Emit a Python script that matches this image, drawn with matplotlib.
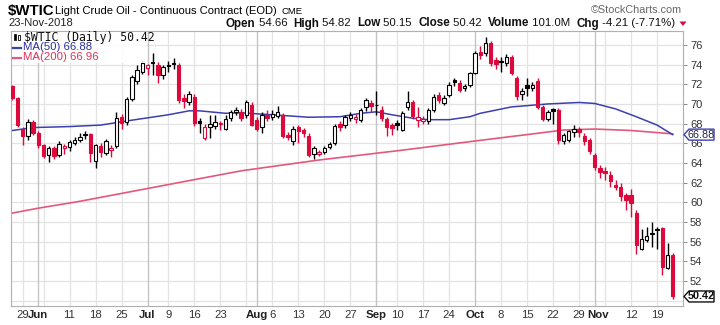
import numpy as np
import matplotlib
matplotlib.use("Agg")
import matplotlib.pyplot as plt
import matplotlib.transforms as mtransforms
from matplotlib.patches import Polygon
from matplotlib.lines import Line2D

# ---------------- data ----------------
opens = [71.8, 70.6, 67.5, 66.7, 68.2, 67.0, 65.8, 64.8, 65.5, 64.8,
         65.5, 65.6, 66.0, 66.3, 66.95, 66.9, 64.2, 65.7, 65.0, 65.3,
         65.7, 68.7, 68.2, 70.5, 72.3, 73.3, 73.7, 74.3, 74.0, 72.9,
         74.0, 74.2, 74.0, 70.6, 70.2, 70.7, 68.3, 66.5, 67.7, 67.8,
         68.1, 67.5, 68.6, 69.2, 69.2, 68.9, 69.9, 68.4, 67.7, 68.9,
         68.7, 68.8, 68.9, 66.8, 66.2, 67.7, 67.3, 66.7, 64.9, 64.9,
         65.1, 65.6, 66.0, 68.0, 67.9, 68.6, 68.5, 68.4, 69.7, 70.1,
         69.9, 69.4, 68.5, 67.9, 68.1, 67.4, 69.7, 70.2, 68.4, 68.3,
         68.3, 69.4, 70.9, 70.1, 70.9, 72.4, 72.1, 71.6, 71.9, 73.1,
         75.3, 75.15, 76.2, 74.5, 74.4, 74.2, 74.8, 72.6, 71.0, 71.9,
         71.6, 72.3, 69.7, 68.5, 69.45, 69.4, 66.2, 66.3, 67.1, 67.5,
         66.7, 66.3, 64.8, 63.45, 63.2, 62.8, 61.75, 61.6, 60.75, 60.75,
         58.9, 55.2, 56.2, 56.9, 57.3, 57.4, 53.3, 54.66]
highs = [71.95, 70.7, 67.7, 68.5, 68.4, 67.2, 65.9, 65.7, 65.7, 66.2,
         65.9, 66.3, 66.6, 67.0, 67.2, 67.0, 65.9, 66.0, 66.4, 65.8,
         69.2, 69.0, 70.7, 72.9, 74.0, 74.5, 74.1, 75.2, 74.3, 74.0,
         74.4, 74.7, 74.2, 71.0, 71.3, 71.0, 68.6, 68.0, 68.9, 68.9,
         68.3, 68.9, 69.4, 69.7, 69.5, 70.4, 70.2, 68.7, 69.2, 69.4,
         69.4, 69.8, 69.1, 67.1, 67.8, 67.9, 67.6, 67.0, 65.7, 65.3,
         65.7, 66.1, 68.0, 68.3, 68.9, 69.2, 69.0, 69.6, 70.6, 70.4,
         71.3, 69.8, 68.7, 68.1, 68.4, 69.3, 71.3, 70.4, 69.7, 68.8,
         69.6, 71.0, 71.2, 70.9, 72.2, 72.6, 72.4, 72.0, 73.3, 75.4,
         75.9, 76.85, 76.4, 74.8, 74.8, 75.1, 75.0, 72.8, 71.6, 72.6,
         72.2, 72.6, 69.9, 69.4, 69.6, 69.6, 67.0, 67.4, 67.9, 67.7,
         67.0, 66.5, 65.0, 63.8, 63.6, 63.2, 62.3, 62.0, 60.9, 61.3,
         59.2, 57.3, 57.5, 58.0, 57.5, 57.5, 55.9, 54.82]
lows = [70.4, 67.7, 65.8, 66.3, 66.8, 65.5, 64.5, 64.1, 64.4, 64.6,
        64.9, 65.2, 65.8, 66.1, 66.4, 64.1, 63.5, 64.6, 64.8, 64.6,
        65.5, 67.5, 67.9, 70.3, 72.0, 73.0, 72.9, 72.9, 72.1, 72.5,
        73.3, 73.6, 70.1, 69.6, 69.9, 67.8, 67.0, 66.3, 66.5, 67.5,
        67.4, 67.3, 68.3, 68.9, 68.3, 68.6, 67.8, 67.2, 67.0, 68.3,
        68.4, 68.6, 66.5, 66.3, 65.8, 66.0, 66.6, 64.6, 64.4, 64.7,
        64.9, 65.4, 65.8, 67.2, 67.6, 68.3, 68.1, 68.2, 69.3, 69.2,
        68.9, 68.3, 66.7, 66.8, 67.4, 67.2, 69.4, 68.5, 67.7, 68.0,
        68.0, 69.2, 70.1, 69.9, 70.7, 71.8, 71.2, 71.3, 71.7, 73.0,
        74.6, 74.9, 73.9, 73.6, 73.2, 73.9, 72.9, 70.4, 70.4, 70.8,
        71.3, 69.5, 68.3, 68.3, 68.0, 65.9, 65.9, 66.1, 66.6, 66.6,
        65.8, 64.9, 63.3, 62.5, 62.3, 61.6, 61.2, 60.1, 59.2, 58.5,
        54.7, 55.1, 56.0, 55.5, 55.2, 52.6, 53.2, 50.15]
closes = [70.6, 67.9, 66.7, 68.2, 67.0, 65.8, 64.75, 65.5, 64.7, 65.95,
          65.75, 66.1, 66.35, 66.65, 66.8, 65.05, 65.85, 65.1, 66.2, 65.55,
          68.6, 68.1, 70.5, 72.75, 73.45, 74.15, 73.95, 74.15, 72.95, 73.8,
          73.85, 74.1, 70.4, 70.3, 71.0, 68.05, 68.1, 67.7, 68.0, 68.2,
          68.0, 68.5, 69.2, 69.4, 68.6, 70.2, 67.9, 67.5, 68.9, 68.6,
          69.0, 69.2, 66.7, 66.6, 67.5, 67.2, 67.0, 64.8, 65.5, 65.1,
          65.5, 65.9, 67.8, 67.7, 68.7, 68.9, 68.7, 69.4, 70.4, 69.8,
          69.85, 68.6, 67.7, 67.55, 67.9, 69.1, 70.2, 68.75, 68.65, 68.5,
          69.4, 70.7, 70.4, 70.6, 71.9, 72.2, 71.4, 71.8, 73.1, 75.15,
          75.0, 76.2, 74.15, 74.1, 74.3, 74.8, 73.1, 70.8, 71.3, 71.6,
          71.9, 69.7, 68.5, 69.2, 69.3, 66.35, 66.8, 67.2, 67.5, 67.1,
          66.2, 65.2, 63.6, 63.1, 62.95, 62.2, 61.6, 60.6, 60.2, 59.9,
          55.7, 56.25, 56.6, 56.75, 57.2, 53.45, 54.63, 50.42]

ma50_idx = [0, 4, 11, 17, 23, 30, 34, 36, 41, 44, 50, 57, 63, 67, 70, 73, 77, 80,
            84, 88, 90, 96, 103, 109, 112, 116, 120, 124, 127]
ma50_val = [67.3, 67.6, 67.7, 67.85, 68.35, 68.9, 69.3, 69.3, 69.05, 69.1, 68.9,
            68.65, 68.7, 69.05, 69.2, 68.9, 68.55, 68.4, 68.4, 68.7, 69.05, 69.7,
            70.0, 70.15, 70.05, 69.5, 68.7, 67.85, 66.88]
ma200_idx = [0, 5, 13, 21, 26, 34, 44, 59, 75, 90, 100, 106, 112, 119, 127]
ma200_val = [58.9, 59.4, 60.1, 60.9, 61.4, 62.2, 63.2, 64.3, 65.3, 66.3, 66.95,
             67.35, 67.45, 67.3, 66.96]

ytick_vals = list(range(52, 77, 2))
xtick_pos = [2, 5, 11, 16, 21, 26, 30, 35, 40, 47, 50, 55, 60, 65, 70, 74, 79, 84,
             89, 94, 99, 104, 109, 112, 119, 124]
xtick_lab = ["29", "Jun", "11", "18", "25", "Jul", "9", "16", "23", "Aug", "6", "13",
             "20", "27", "Sep", "10", "17", "24", "Oct", "8", "15", "22", "29", "Nov",
             "12", "19"]
week_lines = [2, 6, 11, 16, 21, 30, 35, 40, 45, 50, 55, 60, 65, 74, 79, 84, 94, 99,
              104, 109, 114, 119, 124]
month_lines = [5, 26, 47, 70, 89, 112]

# ---------------- figure ----------------
plt.rcParams['font.family'] = ['Liberation Sans', 'DejaVu Sans']
W, H = 720, 325
fig = plt.figure(figsize=(W / 100, H / 100), dpi=100)
fig.patch.set_facecolor('white')
L, R, T, B = 10.7, 683, 31, 306
ax = fig.add_axes([L / W, 1 - B / H, (R - L) / W, (B - T) / H])
ax.set_xlim(-0.31, 128.98)
ax.set_ylim(49.45, 77.42)

RED = '#dc0a3c'
n = len(closes)
idx = np.arange(n)
o = np.array(opens); c = np.array(closes); h = np.array(highs); lo = np.array(lows)
prev = np.concatenate([[o[0]], c[:-1]])
cols = [RED if c[i] < prev[i] else 'black' for i in range(n)]
fills = [cols[i] if c[i] < o[i] else 'white' for i in range(n)]

# grid
for v in range(50, 78, 2):
    ax.axhline(v, color='#e3e3e3', lw=0.9, zorder=0)
for x in week_lines:
    ax.axvline(x, color='#e3e3e3', lw=0.9, zorder=0)
for x in month_lines:
    ax.axvline(x, color='#c4c4c4', lw=1.0, zorder=0)

# moving averages
ax.plot(ma200_idx, ma200_val, color='#e4587e', lw=1.2, zorder=1)
ax.plot(ma50_idx, ma50_val, color='#3c3fae', lw=1.1, zorder=1)

# candles
ax.vlines(idx, lo, h, colors=cols, lw=1.0, zorder=2)
bot = np.minimum(o, c)
hei = np.maximum(np.abs(c - o), 0.07)
ax.bar(idx, hei, bottom=bot, width=0.66, color=fills, edgecolor=cols,
       linewidth=0.8, zorder=3)

# axes styling
for s in ax.spines.values():
    s.set_color('#b0b0b0')
    s.set_linewidth(0.8)
ax.yaxis.tick_right()
ax.set_yticks(ytick_vals)
ax.set_yticklabels([str(v) for v in ytick_vals])
ax.tick_params(axis='y', length=3, width=0.7, color='#888888', pad=2,
               labelsize=8.0, labelcolor='#333333')
ax.set_xticks(xtick_pos)
ax.set_xticklabels(xtick_lab)
ax.tick_params(axis='x', length=0, pad=3, labelsize=8.2, labelcolor='#333333')
for t in ax.get_xticklabels():
    if t.get_text() in ("Jun", "Jul", "Aug", "Sep", "Oct", "Nov"):
        t.set_fontweight('bold')
        t.set_color('#222222')
    if t.get_text() == "Nov":
        t.set_transform(t.get_transform() +
                        mtransforms.ScaledTranslation(3 / 100, 0, fig.dpi_scale_trans))
labs = ax.get_xticklabels()
# the "29" just before Nov sits slightly left
for t in labs:
    pass

# right-hand value boxes
def value_box(val, edge, txtcol, bold):
    xr, yv = ax.transData.transform((128.98, val))
    x0 = xr + 1
    hh = 5.5
    w = 30
    pts = [(x0, yv), (x0 + 5, yv + hh), (x0 + w, yv + hh), (x0 + w, yv - hh),
           (x0 + 5, yv - hh)]
    poly = Polygon(pts, closed=True, facecolor='white', edgecolor=edge, lw=1.0,
                   transform=None, zorder=10, clip_on=False)
    fig.add_artist(poly)
    fig.text((x0 + 5 + (w - 5) / 2) / W, yv / H, f"{val:.2f}", ha='center', va='center',
             fontsize=7.8, color=txtcol, fontweight='bold' if bold else 'normal',
             zorder=11)

value_box(66.88, '#3c3fae', '#222244', False)
value_box(50.42, '#111111', '#111111', True)

# ---------------- header texts ----------------
def px(x, y):
    return x / W, 1 - y / H

renderer = fig.canvas.get_renderer()
fig.text(*px(8, 10.5), "$WTIC", fontsize=10.8, fontweight='bold', va='center', ha='left')
tt = fig.text(*px(55, 11), "Light Crude Oil - Continuous Contract (EOD)", fontsize=8.0,
              va='center', ha='left')
xe = 55 + tt.get_window_extent(renderer=renderer).width + 5
fig.text(*px(xe, 11.5), "CME", fontsize=6.8, va='center', ha='left')
fig.text(*px(8, 23.5), "23-Nov-2018", fontsize=8.0, va='center', ha='left', color='#222222')
fig.text(*px(682, 10), "\u00a9StockCharts.com", fontsize=7.8, va='center', ha='right',
         color='#666666')

# OHLC summary line, placed piece by piece
pieces = [("Open", True), (" 54.66  ", False), ("High", True), (" 54.82  ", False),
          ("Low", True), (" 50.15  ", False), ("Close", True), (" 50.42  ", False),
          ("Volume", True), (" 101.0M  ", False), ("Chg", True), (" -4.21 (-7.71%) ", False)]
xcur = 226.0
for txt, bold in pieces:
    t = fig.text(*px(xcur, 23.5), txt, fontsize=8.4 if bold else 8.2,
                 fontweight='bold' if bold else 'normal', va='center', ha='left',
                 color='#111111')
    bb = t.get_window_extent(renderer=renderer)
    xcur += bb.width
tri = Polygon([(xcur + 1, H - 21.5), (xcur + 8, H - 21.5), (xcur + 4.5, H - 26)],
              closed=True, facecolor=RED, edgecolor='none', transform=None)
fig.add_artist(tri)

# ---------------- legend (upper left inside plot) ----------------
fig.add_artist(Polygon([(11.5, H - 31.5), (146, H - 31.5), (146, H - 63), (11.5, H - 63)],
                       closed=True, facecolor='white', edgecolor='none', alpha=0.85,
                       transform=None, zorder=4))
fig.add_artist(Polygon([(13.5, H - 34), (16, H - 34), (16, H - 40), (13.5, H - 40)],
                       closed=True, facecolor='black', edgecolor='black', lw=0.5,
                       transform=None, zorder=5))
fig.add_artist(Polygon([(17.5, H - 35), (20, H - 35), (20, H - 40), (17.5, H - 40)],
                       closed=True, facecolor='white', edgecolor='black', lw=0.6,
                       transform=None, zorder=5))
fig.text(*px(24, 37), "$WTIC (Daily) 50.42", fontsize=8.3, va='center', ha='left',
         family=['DejaVu Sans Mono'], color='#111111', zorder=6)
fig.add_artist(Line2D([12.5 / W, 21 / W], [1 - 48 / H, 1 - 48 / H],
                      color='#3c3fae', lw=1.6, zorder=6))
fig.text(*px(23, 47.5), "MA(50) 66.88", fontsize=8.2, va='center', ha='left',
         color='#2b2fa0', zorder=6)
fig.add_artist(Line2D([12.5 / W, 21 / W], [1 - 58 / H, 1 - 58 / H],
                      color='#e4587e', lw=1.6, zorder=6))
fig.text(*px(23, 57.5), "MA(200) 66.96", fontsize=8.2, va='center', ha='left',
         color='#e0305a', zorder=6)

fig.savefig("out.png", dpi=100)
